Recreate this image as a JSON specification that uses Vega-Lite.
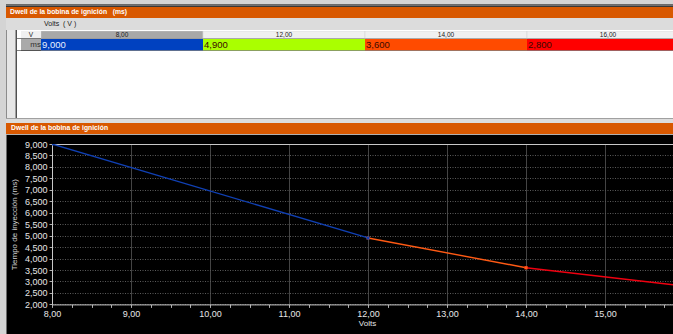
{
  "$schema": "https://vega.github.io/schema/vega-lite/v6.json",
  "padding": 0,
  "background": "#000000",
  "config": {"view": {"stroke": null}, "font": "Liberation Sans"},
  "datasets": {
    "cells": [
      {"volts": "8,00", "ms": "9,000"},
      {"volts": "12,00", "ms": "4,900"},
      {"volts": "14,00", "ms": "3,600"},
      {"volts": "16,00", "ms": "2,800"}
    ],
    "curve": [
      {"seg": "c", "v": 14, "t": 3600},
      {"seg": "c", "v": 16, "t": 2800},
      {"seg": "b", "v": 12, "t": 4900},
      {"seg": "b", "v": 14, "t": 3600},
      {"seg": "a", "v": 8, "t": 9000},
      {"seg": "a", "v": 12, "t": 4900}
    ]
  },
  "spacing": 0,
  "bounds": "flush",
  "resolve": {"scale": {"x": "independent", "y": "independent", "color": "independent"}},
  "hconcat": [
    {"width": 6, "height": 334, "data": {"values": [{}]}, "mark": {"type": "point", "size": 0, "opacity": 0}, "view": {"fill": "#d4d4d4"}},
    {
      "spacing": 0,
      "bounds": "flush",
      "resolve": {"scale": {"x": "independent", "y": "independent", "color": "independent"}},
      "vconcat": [
        {"width": 667, "height": 4.5, "data": {"values": [{}]}, "mark": {"type": "point", "size": 0, "opacity": 0}, "view": {"fill": "#d4d4d4"}},
        {"width": 667, "height": 1.5, "data": {"values": [{}]}, "mark": {"type": "point", "size": 0, "opacity": 0}, "view": {"fill": "#707070"}},
        {"width": 667, "height": 11, "data": {"values": [{}]}, "mark": {"type": "point", "size": 0, "opacity": 0}, "view": {"fill": "#d85800"},
         "title": {"text": "Dwell de la bobina de ignición\u00a0\u00a0\u00a0(ms)", "anchor": "start", "frame": "group", "orient": "top", "offset": -13.5, "baseline": "alphabetic", "dx": 4, "color": "#ffffff", "fontSize": 6.8, "fontWeight": "bold"}},
        {"width": 667, "height": 12, "data": {"values": [{}]}, "mark": {"type": "point", "size": 0, "opacity": 0}, "view": {"fill": "#dcdcdc"},
         "title": {"text": "Volts\u00a0\u00a0(\u00a0V\u00a0)", "anchor": "start", "frame": "group", "orient": "top", "offset": -15, "baseline": "alphabetic", "dx": 38, "color": "#202020", "fontSize": 7, "fontWeight": "normal"}},
        {
          "spacing": 0,
          "bounds": "flush",
          "resolve": {"scale": {"x": "independent", "y": "independent", "color": "independent"}},
          "hconcat": [
            {"width": 1, "height": 88, "data": {"values": [{}]}, "mark": {"type": "point", "size": 0, "opacity": 0}, "view": {"fill": "#8c8c8c"}},
            {"width": 8, "height": 88, "data": {"values": [{}]}, "mark": {"type": "point", "size": 0, "opacity": 0}, "view": {"fill": "#e6e6e6"}},
            {"width": 1.5, "height": 88, "data": {"values": [{}]}, "mark": {"type": "point", "size": 0, "opacity": 0}, "view": {"fill": "#a0a0a0"}},
            {
              "spacing": 0,
              "bounds": "flush",
              "resolve": {"scale": {"x": "independent", "y": "independent", "color": "independent"}},
              "vconcat": [
                {"width": 656.5, "height": 1, "data": {"values": [{}]}, "mark": {"type": "point", "size": 0, "opacity": 0}, "view": {"fill": "#ffffff"}},
                {
                  "spacing": 0,
                  "bounds": "flush",
                  "hconcat": [
                    {"width": 4, "height": 7.5, "data": {"values": [{}]}, "mark": {"type": "point", "size": 0, "opacity": 0}, "view": {"fill": "#ffffff"}},
                    {"width": 20, "height": 7.5, "data": {"values": [{"t": "V"}]}, "view": {"fill": "#f0f0f0"},
                     "mark": {"type": "text", "fontSize": 6.5, "color": "#202020", "baseline": "middle"},
                     "encoding": {"text": {"field": "t"}}},
                    {"width": 632.5, "height": 7.5, "data": {"name": "cells"}, "view": {"fill": "#ffffff"},
                     "layer": [
                       {"mark": {"type": "rect", "clip": true, "stroke": "#d0d0d0", "strokeWidth": 0.5},
                        "encoding": {
                          "x": {"field": "volts", "type": "ordinal", "sort": null, "scale": {"domain": ["8,00", "12,00", "14,00", "16,00"], "range": [0, 648], "paddingInner": 0, "paddingOuter": 0}, "axis": null},
                          "color": {"condition": {"test": "datum.volts === '8,00'", "value": "#a8a8a8"}, "value": "#f0f0f0"}
                        }},
                       {"mark": {"type": "text", "clip": true, "fontSize": 6.5, "color": "#202020", "baseline": "middle"},
                        "encoding": {
                          "x": {"field": "volts", "type": "ordinal", "sort": null, "bandPosition": 0.5, "scale": {"domain": ["8,00", "12,00", "14,00", "16,00"], "range": [0, 648], "paddingInner": 0, "paddingOuter": 0}, "axis": null},
                          "text": {"field": "volts"}
                        }}
                     ]}
                  ]
                },
                {"width": 656.5, "height": 7.5, "data": {"values": [{}]}, "mark": {"type": "point", "size": 0, "opacity": 0}},
                {
                  "spacing": 0,
                  "bounds": "flush",
                  "hconcat": [
                    {"width": 4, "height": 11.5, "data": {"values": [{}]}, "mark": {"type": "point", "size": 0, "opacity": 0}, "view": {"fill": "#ffffff"}},
                    {"width": 20, "height": 11.5, "data": {"values": [{"t": "ms"}]}, "view": {"fill": "#a9a9a9"},
                     "mark": {"type": "text", "fontSize": 8, "color": "#303030", "baseline": "middle", "align": "right", "dx": 10},
                     "encoding": {"text": {"field": "t"}}},
                    {"width": 632.5, "height": 11.5, "data": {"name": "cells"}, "view": {"fill": "#ffffff"},
                     "layer": [
                       {"mark": {"type": "rect", "clip": true},
                        "encoding": {
                          "x": {"field": "volts", "type": "ordinal", "sort": null, "scale": {"domain": ["8,00", "12,00", "14,00", "16,00"], "range": [0, 648], "paddingInner": 0, "paddingOuter": 0}, "axis": null},
                          "color": {"field": "volts", "type": "nominal", "scale": {"domain": ["8,00", "12,00", "14,00", "16,00"], "range": ["#0041c0", "#aaff00", "#ff4b00", "#ff0000"]}, "legend": null}
                        }},
                       {"mark": {"type": "text", "clip": true, "fontSize": 9.5, "baseline": "middle", "align": "left", "dx": 1},
                        "encoding": {
                          "x": {"field": "volts", "type": "ordinal", "sort": null, "bandPosition": 0, "scale": {"domain": ["8,00", "12,00", "14,00", "16,00"], "range": [0, 648], "paddingInner": 0, "paddingOuter": 0}, "axis": null},
                          "text": {"field": "ms"},
                          "color": {"condition": {"test": "datum.volts === '8,00'", "value": "#e8f0ff"}, "value": "#3a0a00"}
                        }}
                     ]}
                  ]
                },
                {"width": 656.5, "height": 11.5, "data": {"values": [{}]}, "mark": {"type": "point", "size": 0, "opacity": 0}},
                {"width": 656.5, "height": 68, "data": {"values": [{}]}, "mark": {"type": "point", "size": 0, "opacity": 0}, "view": {"fill": "#ffffff"}}
              ]
            }
          ]
        },
        {"width": 667, "height": 88, "data": {"values": [{}]}, "mark": {"type": "point", "size": 0, "opacity": 0}},
        {"width": 667, "height": 1, "data": {"values": [{}]}, "mark": {"type": "point", "size": 0, "opacity": 0}, "view": {"fill": "#a0a0a0"}},
        {"width": 667, "height": 4, "data": {"values": [{}]}, "mark": {"type": "point", "size": 0, "opacity": 0}, "view": {"fill": "#dcdcdc"}},
        {"width": 667, "height": 11, "data": {"values": [{}]}, "mark": {"type": "point", "size": 0, "opacity": 0}, "view": {"fill": "#d85800"},
         "title": {"text": "Dwell de la bobina de ignición", "anchor": "start", "frame": "group", "orient": "top", "offset": -13.5, "baseline": "alphabetic", "dx": 5, "color": "#ffffff", "fontSize": 6.8, "fontWeight": "bold"}},
        {"width": 667, "height": 1, "data": {"values": [{}]}, "mark": {"type": "point", "size": 0, "opacity": 0}, "view": {"fill": "#b0b0b0"}},
        {
          "spacing": 0,
          "bounds": "flush",
          "resolve": {"scale": {"x": "independent", "y": "independent", "color": "independent"}},
          "hconcat": [
            {"width": 1, "height": 200, "data": {"values": [{}]}, "mark": {"type": "point", "size": 0, "opacity": 0}, "view": {"fill": "#6a6a6a"}},
            {"width": 45, "height": 200, "data": {"values": [{}]}, "mark": {"type": "point", "size": 0, "opacity": 0}},
            {
              "spacing": 0,
              "bounds": "flush",
              "vconcat": [
                {"width": 621, "height": 8.3, "data": {"values": [{}]}, "mark": {"type": "point", "size": 0, "opacity": 0}},
                {
                  "width": 621,
                  "height": 160.4,
                  "data": {"name": "curve"},
                  "encoding": {
                    "x": {"field": "v", "type": "quantitative",
                          "scale": {"domain": [8, 15.86], "nice": false, "zero": false},
                          "axis": {
                            "values": [8, 8.25, 8.5, 8.75, 9, 9.25, 9.5, 9.75, 10, 10.25, 10.5, 10.75, 11, 11.25, 11.5, 11.75, 12, 12.25, 12.5, 12.75, 13, 13.25, 13.5, 13.75, 14, 14.25, 14.5, 14.75, 15, 15.25, 15.5, 15.75],
                            "labelExpr": "datum.value % 1 === 0 ? replace(format(datum.value, '.2f'), '.', ',') : ''",
                            "grid": true,
                            "gridColor": "#444444",
                            "gridOpacity": {"condition": {"test": "datum.value % 1 === 0", "value": 1}, "value": 0},
                            "domainColor": "#c8c8c8",
                            "tickColor": "#b0b0b0",
                            "tickSize": 3,
                            "labelColor": "#e6e6e6",
                            "labelFontSize": 9,
                            "labelPadding": 2,
                            "labelFlush": false,
                            "labelOverlap": false,
                            "title": "Volts",
                            "titleColor": "#e6e6e6",
                            "titleFontSize": 8,
                            "titleFontWeight": "normal",
                            "titlePadding": 1,
                            "titleX": 315
                          }},
                    "y": {"field": "t", "type": "quantitative",
                          "scale": {"domain": [2000, 9000], "nice": false, "zero": false},
                          "axis": {
                            "values": [2000, 2500, 3000, 3500, 4000, 4500, 5000, 5500, 6000, 6500, 7000, 7500, 8000, 8500, 9000],
                            "format": ",d",
                            "grid": true,
                            "gridColor": {"condition": {"test": "datum.value === 9000", "value": "#c8c8c8"}, "value": "#5a5a5a"},
                            "gridDash": {"condition": {"test": "datum.value === 9000", "value": []}, "value": [1, 1.5]},
                            "domainColor": "#c8c8c8",
                            "tickColor": "#b0b0b0",
                            "tickSize": 3,
                            "labelColor": "#e6e6e6",
                            "labelFontSize": 9,
                            "labelPadding": 2,
                            "labelOverlap": false,
                            "title": "Tiempo de inyección (ms)",
                            "titleColor": "#d0d0d0",
                            "titleFontSize": 8,
                            "titleFontWeight": "normal",
                            "titlePadding": 6
                          }},
                    "color": {"field": "seg", "type": "nominal", "scale": {"domain": ["a", "b", "c"], "range": ["#1040b4", "#ff5a14", "#f00010"]}, "legend": null}
                  },
                  "layer": [
                    {"mark": {"type": "line", "clip": true, "strokeWidth": 1.4}},
                    {"mark": {"type": "square", "clip": true, "size": 9, "opacity": 1}}
                  ]
                },
                {"width": 621, "height": 28.3, "data": {"values": [{}]}, "mark": {"type": "point", "size": 0, "opacity": 0}},
                {"width": 621, "height": 1, "data": {"values": [{}]}, "mark": {"type": "point", "size": 0, "opacity": 0}, "view": {"fill": "#8c8c8c"}},
                {"width": 621, "height": 2, "data": {"values": [{}]}, "mark": {"type": "point", "size": 0, "opacity": 0}}
              ]
            }
          ]
        }
      ]
    }
  ]
}
